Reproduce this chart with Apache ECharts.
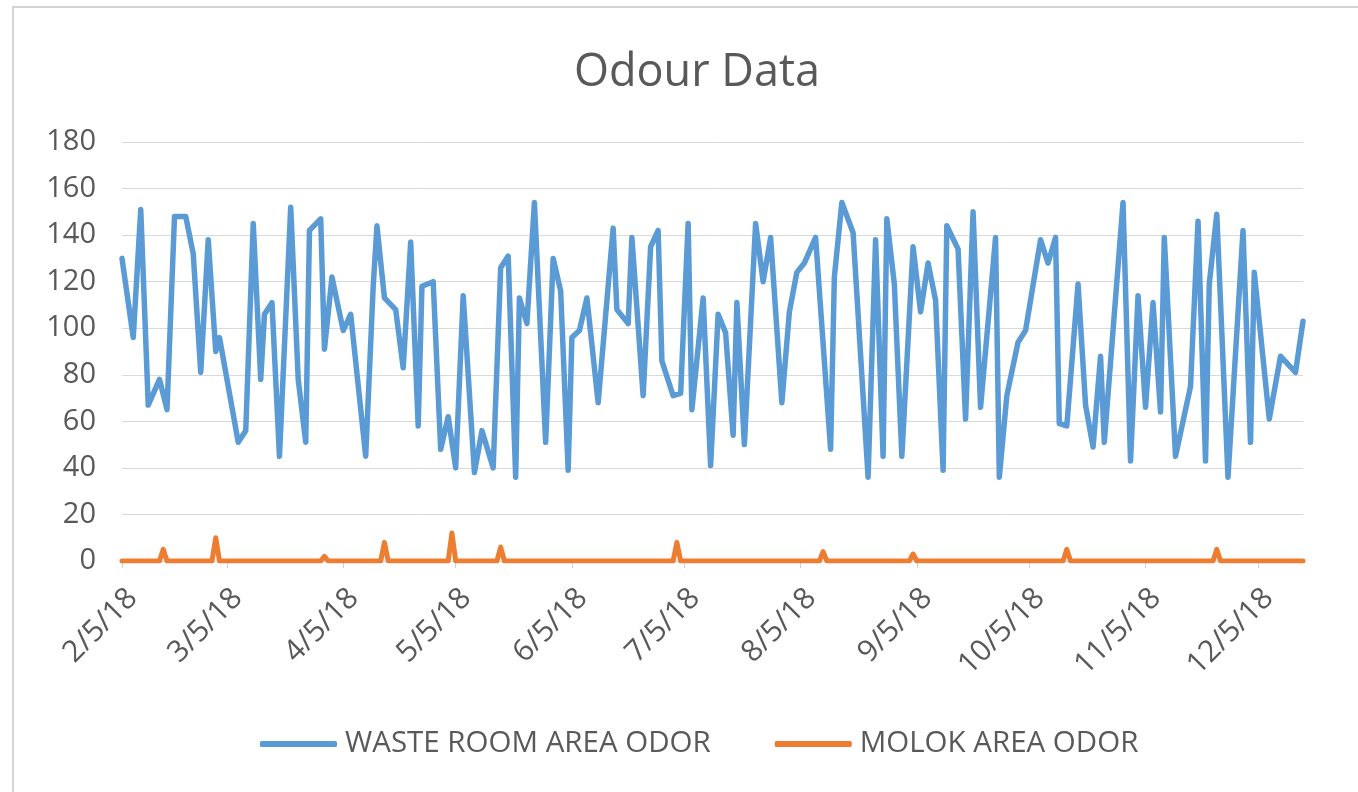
<!DOCTYPE html>
<html>
<head>
<meta charset="utf-8">
<script src="https://cdn.jsdelivr.net/npm/echarts@6/dist/echarts.min.js"></script>
<style>
  html, body { margin: 0; padding: 0; background: #ffffff; }
  #chart { width: 1358px; height: 792px; }
</style>
</head>
<body>
<div id="chart"></div>
<script>
// ---- data ----
const startDate = '2018-02-05';
const endDate = '2018-12-17';

const wasteDates = [
  '2/5/18','2/8/18','2/10/18','2/12/18','2/15/18','2/17/18','2/19/18','2/22/18','2/24/18','2/26/18',
  '2/28/18','3/2/18','3/3/18','3/8/18','3/10/18','3/12/18','3/14/18','3/15/18','3/17/18','3/19/18',
  '3/22/18','3/24/18','3/26/18','3/27/18','3/30/18','3/31/18','4/2/18','4/5/18','4/7/18','4/11/18',
  '4/13/18','4/14/18','4/16/18','4/19/18','4/21/18','4/23/18','4/25/18','4/26/18','4/29/18','5/1/18',
  '5/3/18','5/5/18','5/7/18','5/10/18','5/12/18','5/15/18','5/17/18','5/19/18','5/21/18','5/22/18',
  '5/24/18','5/26/18','5/29/18','5/31/18','6/2/18','6/4/18','6/5/18','6/7/18','6/9/18','6/12/18',
  '6/16/18','6/17/18','6/20/18','6/21/18','6/24/18','6/26/18','6/28/18','6/29/18','7/2/18','7/4/18',
  '7/6/18','7/7/18','7/10/18','7/12/18','7/14/18','7/16/18','7/18/18','7/19/18','7/21/18','7/24/18',
  '7/26/18','7/28/18','7/31/18','8/2/18','8/4/18','8/6/18','8/9/18','8/13/18','8/14/18','8/16/18',
  '8/19/18','8/23/18','8/25/18','8/27/18','8/28/18','8/30/18','9/1/18','9/4/18','9/6/18','9/8/18',
  '9/10/18','9/12/18','9/13/18','9/16/18','9/18/18','9/20/18','9/22/18','9/26/18','9/27/18','9/29/18',
  '10/2/18','10/4/18','10/8/18','10/10/18','10/12/18','10/13/18','10/15/18','10/18/18','10/20/18','10/22/18',
  '10/24/18','10/25/18','10/30/18','11/1/18','11/3/18','11/5/18','11/7/18','11/9/18','11/10/18','11/13/18',
  '11/17/18','11/19/18','11/21/18','11/22/18','11/24/18','11/27/18','12/1/18','12/3/18','12/4/18','12/8/18',
  '12/11/18','12/15/18','12/17/18'
];
const wasteValues = [
  130, 96, 151, 67, 78, 65, 148, 148, 132, 81,
  138, 90, 96, 51, 56, 145, 78, 106, 111, 45,
  152, 78, 51, 142, 147, 91, 122, 99, 106, 45,
  118, 144, 113, 108, 83, 137, 58, 118, 120, 48,
  62, 40, 114, 38, 56, 40, 126, 131, 36, 113,
  102, 154, 51, 130, 116, 39, 96, 99, 113, 68,
  143, 108, 102, 139, 71, 135, 142, 86, 71, 72,
  145, 65, 113, 41, 106, 98, 54, 111, 50, 145,
  120, 139, 68, 107, 124, 128, 139, 48, 122, 154,
  141, 36, 138, 45, 147, 119, 45, 135, 107, 128,
  112, 39, 144, 134, 61, 150, 66, 139, 36, 71,
  94, 99, 138, 128, 139, 59, 58, 119, 67, 49,
  88, 51, 154, 43, 114, 66, 111, 64, 139, 45,
  75, 146, 43, 119, 149, 36, 142, 51, 124, 61,
  88, 81, 103
];

// Molok series: flat at 0 every day, with these small peaks
const molokPeakDates = ['2/16/18','3/2/18','3/31/18','4/16/18','5/4/18','5/17/18','7/3/18','8/11/18','9/4/18','10/15/18','11/24/18'];
const molokPeakValues = [5, 10, 2, 8, 12, 6, 8, 4, 3, 5, 5];

const yTicks = [0, 20, 40, 60, 80, 100, 120, 140, 160, 180];

// ---- build daily categories ----
function fmt(d) {
  return (d.getUTCMonth() + 1) + '/' + d.getUTCDate() + '/' + String(d.getUTCFullYear()).slice(2);
}
const categories = [];
for (let t = Date.parse(startDate + 'T00:00:00Z'); t <= Date.parse(endDate + 'T00:00:00Z'); t += 86400000) {
  categories.push(fmt(new Date(t)));
}
const idx = {};
categories.forEach((c, i) => { idx[c] = i; });

const wasteSeries = categories.map(() => null);
wasteDates.forEach((d, i) => { wasteSeries[idx[d]] = wasteValues[i]; });

const molokSeries = categories.map(() => 0);
molokPeakDates.forEach((d, i) => { molokSeries[idx[d]] = molokPeakValues[i]; });

const isFifth = (i, v) => String(v).split('/')[1] === '5';

const chart = echarts.init(document.getElementById('chart'), null, { renderer: 'canvas' });
const FONT = 'Open Sans';
const TXT = '#595959';

chart.setOption({
  animation: false,
  backgroundColor: '#ffffff',
  title: {
    text: 'Odour Data',
    left: 692,
    textAlign: 'center',
    top: 46,
    textStyle: { fontFamily: FONT, fontSize: 45, fontWeight: 'normal', color: TXT }
  },
  graphic: [{
    type: 'polyline',
    shape: { points: [[13, 792], [13, 7], [1358, 7]] },
    style: { stroke: '#d4d4d4', lineWidth: 2, fill: null },
    silent: true
  }],
  legend: {
    data: ['WASTE ROOM AREA ODOR', 'MOLOK AREA ODOR'],
    left: 255,
    top: 724,
    icon: 'roundRect',
    itemWidth: 77,
    itemHeight: 6,
    itemGap: 64,
    textStyle: { fontFamily: FONT, fontSize: 29.5, color: TXT, padding: [0, 0, 0, 3] }
  },
  grid: { left: 122, right: 55, top: 142, bottom: 231, containLabel: false },
  xAxis: {
    type: 'category',
    data: categories,
    boundaryGap: false,
    axisLine: { show: true, lineStyle: { color: '#d9d9d9', width: 1 } },
    axisTick: { show: true, interval: isFifth, length: 7, lineStyle: { color: '#d0d0d0' } },
    axisLabel: {
      interval: isFifth,
      rotate: 45,
      margin: 22,
      verticalAlign: 'top',
      fontFamily: FONT,
      fontSize: 30,
      color: TXT
    },
    splitLine: { show: false }
  },
  yAxis: {
    type: 'value',
    min: 0,
    max: 180,
    interval: 20,
    axisLine: { show: false },
    axisTick: { show: false },
    axisLabel: {
      margin: 26,
      fontFamily: FONT,
      fontSize: 29,
      color: TXT,
      formatter: v => (yTicks.indexOf(v) >= 0 ? String(v) : '')
    },
    splitLine: { show: true, lineStyle: { color: '#d9d9d9', width: 1 } }
  },
  series: [
    {
      name: 'WASTE ROOM AREA ODOR',
      type: 'line',
      data: wasteSeries,
      connectNulls: true,
      showSymbol: false,
      symbol: 'none',
      color: '#5b9bd5',
      lineStyle: { color: '#5b9bd5', width: 5.5, join: 'round', cap: 'round' }
    },
    {
      name: 'MOLOK AREA ODOR',
      type: 'line',
      data: molokSeries,
      showSymbol: false,
      symbol: 'none',
      color: '#ed7d31',
      lineStyle: { color: '#ed7d31', width: 5, join: 'round', cap: 'round' }
    }
  ]
});
</script>
</body>
</html>
